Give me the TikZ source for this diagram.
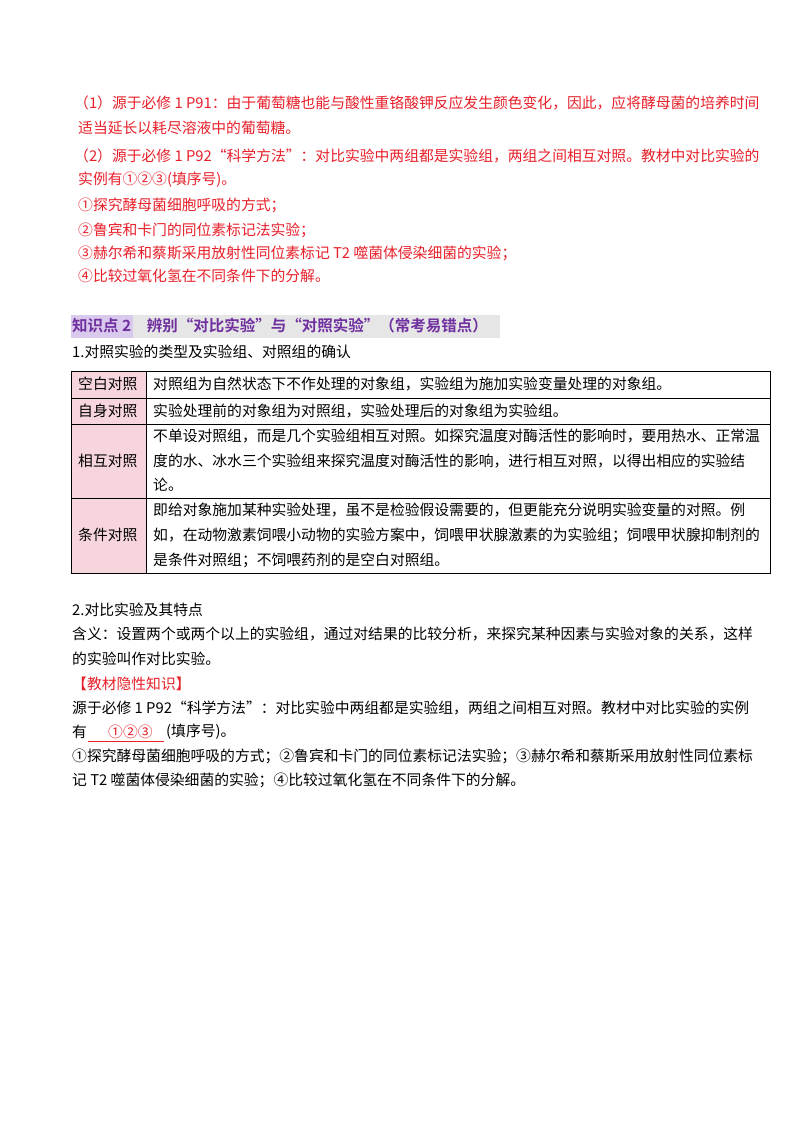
\documentclass[tikz,border=0pt]{standalone}
\usepackage{fontspec}
\setmainfont{Noto Sans CJK SC}
\newfontfamily\cjkb{Noto Sans CJK SC Bold}
\definecolor{myred}{HTML}{E8202A}
\definecolor{mypurple}{HTML}{7030A0}
\definecolor{mypink}{HTML}{F6D5DC}
\definecolor{mygray}{HTML}{E6E6E6}
\definecolor{mylav}{HTML}{D9C9EC}
\begin{document}
\begin{tikzpicture}[x=1pt,y=-1pt,
  rl/.style={anchor=west,inner sep=0pt,text=myred,font=\fontsize{14.8}{14}\selectfont},
  bl/.style={anchor=west,inner sep=0pt,text=black,font=\fontsize{14.8}{14}\selectfont},
  cell/.style={anchor=west,inner sep=0pt,font=\fontsize{14.8}{14}\selectfont},
  grid/.style={draw=black,line width=0.9pt}]
\useasboundingbox[fill=white] (0,0) rectangle (800,1132);
% red block
\node[rl] (r1) at (74,103) {（1）源于必修 1 P91：由于葡萄糖也能与酸性重铬酸钾反应发生颜色变化，因此，应将酵母菌的培养时间};
\node[rl] (r2) at (78,128) {适当延长以耗尽溶液中的葡萄糖。};
\node[rl] (r3) at (74,156) {（2）源于必修 1 P92“科学方法”：对比实验中两组都是实验组，两组之间相互对照。教材中对比实验的};
\node[rl] (r4) at (78,180) {实例有①②③(填序号)。};
\node[rl] (r5) at (78,205) {①探究酵母菌细胞呼吸的方式；};
\node[rl] (r6) at (78,230) {②鲁宾和卡门的同位素标记法实验；};
\node[rl] (r7) at (78,253) {③赫尔希和蔡斯采用放射性同位素标记 T2 噬菌体侵染细菌的实验；};
\node[rl] (r8) at (78,276) {④比较过氧化氢在不同条件下的分解。};
% heading
\fill[mylav] (71,315) rectangle (133,338);
\fill[mygray] (133,315) rectangle (500,338);
\node[anchor=west,inner sep=0pt,text=mypurple,font=\cjkb\fontsize{15.5}{15}\selectfont] (h) at (72,326) {知识点 2\quad 辨别“对比实验”与“对照实验”（常考易错点）};
\node[bl] (s1) at (72,352) {1.对照实验的类型及实验组、对照组的确认};
% table
\fill[mypink] (71,371) rectangle (146,573);
\draw[grid] (71,371) rectangle (770,573);
\draw[grid] (146,371) -- (146,573);
\foreach \yy in {398,424,498} \draw[grid] (71,\yy) -- (770,\yy);
\node[cell] (a1) at (78,384) {空白对照};
\node[cell] (a2) at (78,411) {自身对照};
\node[cell] (a3) at (78,461) {相互对照};
\node[cell] (a4) at (78,535) {条件对照};
\node[cell] (b1) at (153,384) {对照组为自然状态下不作处理的对象组，实验组为施加实验变量处理的对象组。};
\node[cell] (b2) at (153,411) {实验处理前的对象组为对照组，实验处理后的对象组为实验组。};
\node[cell] (b3) at (153,436) {不单设对照组，而是几个实验组相互对照。如探究温度对酶活性的影响时，要用热水、正常温};
\node[cell] (b3b) at (153,461) {度的水、冰水三个实验组来探究温度对酶活性的影响，进行相互对照，以得出相应的实验结};
\node[cell] (b3c) at (153,485) {论。};
\node[cell] (b4) at (153,510) {即给对象施加某种实验处理，虽不是检验假设需要的，但更能充分说明实验变量的对照。例};
\node[cell] (b4b) at (153,535) {如，在动物激素饲喂小动物的实验方案中，饲喂甲状腺激素的为实验组；饲喂甲状腺抑制剂的};
\node[cell] (b4c) at (153,560) {是条件对照组；不饲喂药剂的是空白对照组。};
% section 2
\node[bl] (s2) at (72,610) {2.对比实验及其特点};
\node[bl] (t1) at (72,634) {含义：设置两个或两个以上的实验组，通过对结果的比较分析，来探究某种因素与实验对象的关系，这样};
\node[bl] (t2) at (72,659) {的实验叫作对比实验。};
\node[rl] (t3) at (72,684) {【教材隐性知识】};
\node[bl] (t4) at (72,708) {源于必修 1 P92“科学方法”：对比实验中两组都是实验组，两组之间相互对照。教材中对比实验的实例};
\node[bl] (t5a) at (72,732) {有};
\node[rl] (t5b) at (108,732) {①②③};
\node[bl] (t5c) at (166,732) {(填序号)。};
\coordinate (u1) at (88,741); \coordinate (u2) at (164,741);
\draw[myred,line width=0.8pt] (u1) -- (u2);
\node[bl] (t6) at (72,756) {①探究酵母菌细胞呼吸的方式；②鲁宾和卡门的同位素标记法实验；③赫尔希和蔡斯采用放射性同位素标};
\node[bl] (t7) at (72,780) {记 T2 噬菌体侵染细菌的实验；④比较过氧化氢在不同条件下的分解。};
\end{tikzpicture}
\end{document}
